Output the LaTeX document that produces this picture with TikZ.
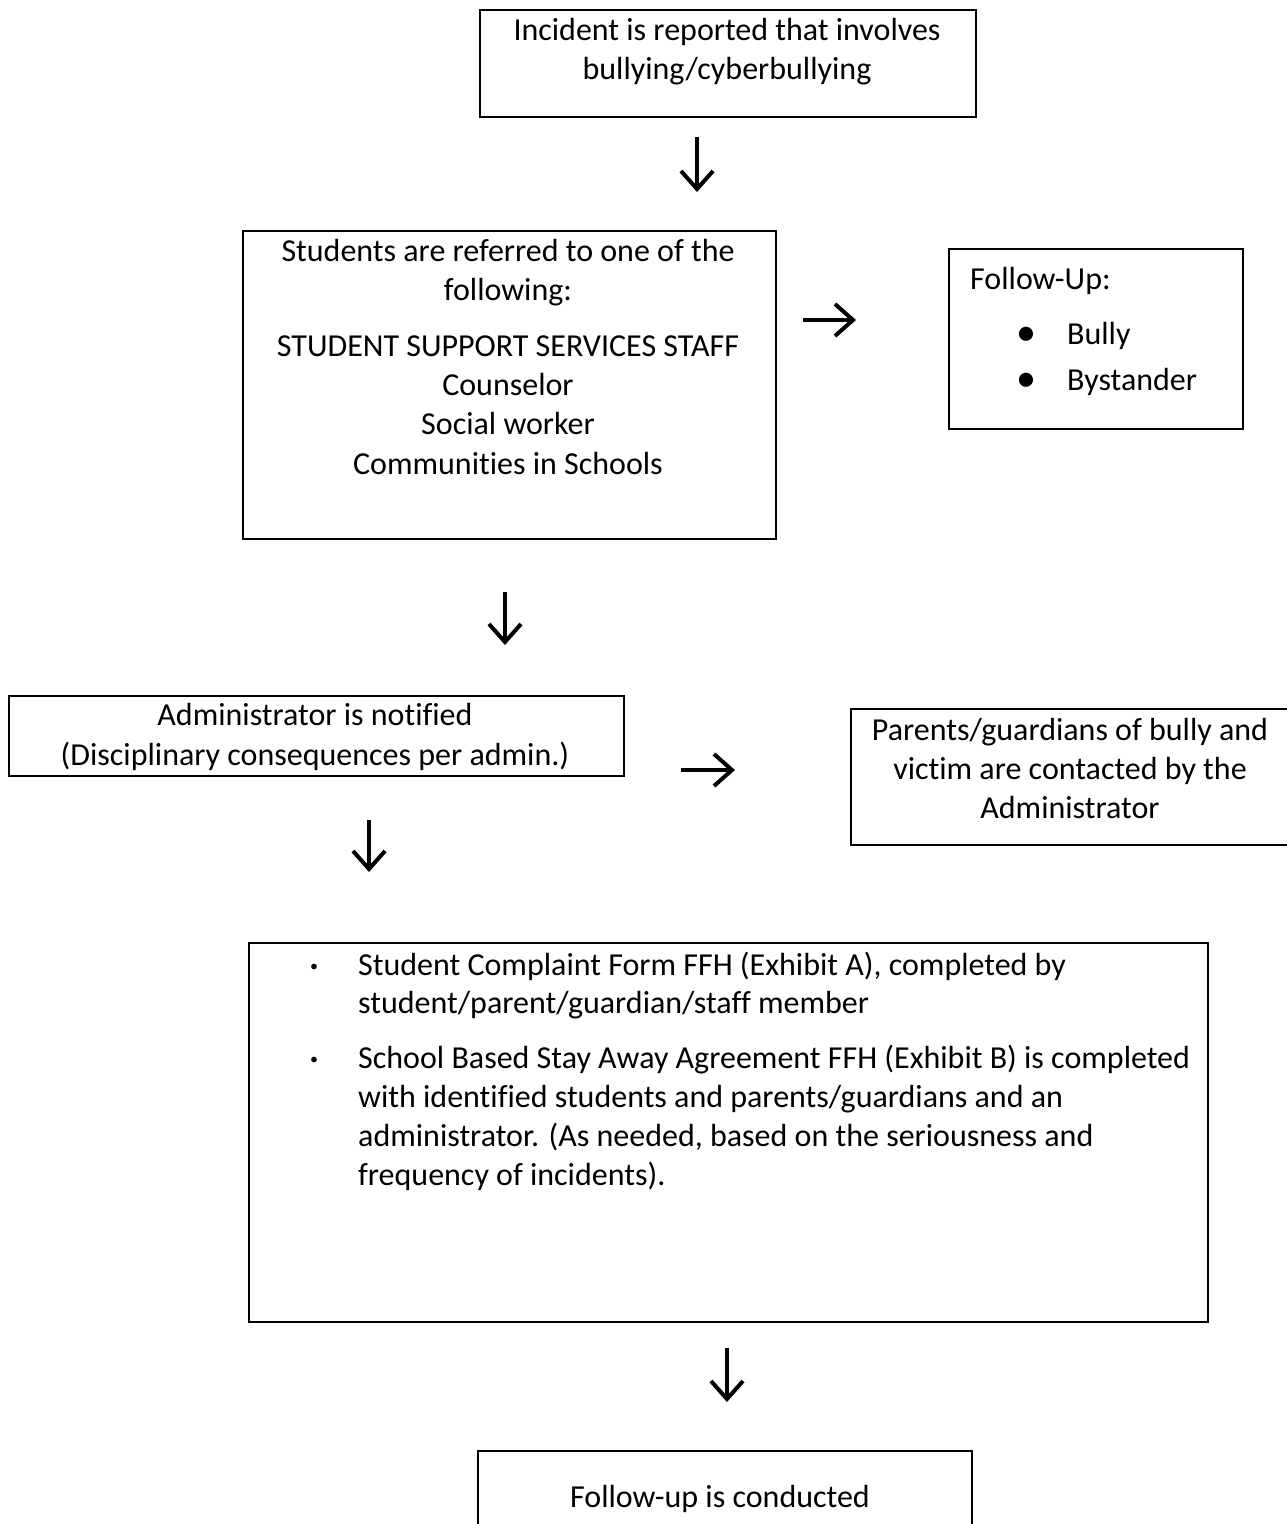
\documentclass[tikz,border=0pt]{standalone}
\usepackage{fontspec}
\setmainfont{Carlito}[Ligatures={NoCommon,NoRequired,NoContextual}]
\usetikzlibrary{arrows.meta}
\tikzset{
  box/.style={draw, line width=1.6pt, inner sep=0pt, anchor=north west},
  txt/.style={inner sep=0pt, anchor=base, font=\fontsize{32}{38}\selectfont},
  ltxt/.style={txt, anchor=base west},
  bigdot/.style={inner sep=0pt, anchor=center, font=\fontsize{40}{40}\selectfont},
  smalldot/.style={inner sep=0pt, anchor=center, font=\fontsize{16}{16}\selectfont},
  darrow/.style={line width=3.2pt, -{Straight Barb[length=18pt,width=32pt,line width=4pt]}},
}
\begin{document}
\begin{tikzpicture}[x=1pt,y=-1pt]
\clip (0,0) rectangle (1287,1524);
\fill[white] (0,0) rectangle (1287,1524);

% Box 1
\node[box, minimum width=496pt, minimum height=107pt] (b1) at (479,9) {};
\node[txt] (b1l1) at (727,40) {Incident is reported that involves};
\node[txt] (b1l2) at (727,79) {bullying/cyberbullying};

% Box 2
\node[box, minimum width=533pt, minimum height=308pt] (b2) at (242,230) {};
\node[txt] (b2l1) at (508,261.5) {Students are referred to one of the};
\node[txt] (b2l2) at (508,300.5) {following:};
\node[txt] (b2l3) at (508,356) {STUDENT SUPPORT SERVICES STAFF};
\node[txt] (b2l4) at (508,395) {Counselor};
\node[txt] (b2l5) at (508,434.5) {Social worker};
\node[txt] (b2l6) at (508,474) {Communities in Schools};

% Box 3
\node[box, minimum width=294pt, minimum height=180pt] (b3) at (948,248) {};
\node[ltxt] (b3l1) at (970,289.5) {Follow-Up:};
\node[bigdot] (b3d1) at (1026,336) {•};
\node[ltxt] (b3l2) at (1067,344.5) {Bully};
\node[bigdot] (b3d2) at (1026,382) {•};
\node[ltxt] (b3l3) at (1067,390.5) {Bystander};

% Box 4
\node[box, minimum width=615pt, minimum height=80pt] (b4) at (8,695) {};
\node[txt] (b4l1) at (315,725.5) {Administrator is notified};
\node[txt] (b4l2) at (315,765.5) {(Disciplinary consequences per admin.)};

% Box 5
\node[box, minimum width=460pt, minimum height=136pt] (b5) at (850,708) {};
\node[txt] (b5l1) at (1070,740.5) {Parents/guardians of bully and};
\node[txt] (b5l2) at (1070,779.5) {victim are contacted by the};
\node[txt] (b5l3) at (1070,818.5) {Administrator};

% Box 6
\node[box, minimum width=959pt, minimum height=379pt] (b6) at (248,942) {};
\node[smalldot] (b6d1) at (314,968) {•};
\node[ltxt] (b6l1) at (358,975.5) {Student Complaint Form FFH (Exhibit A), completed by};
\node[ltxt] (b6l2) at (358,1013.5) {student/parent/guardian/staff member};
\node[smalldot] (b6d2) at (314,1061) {•};
\node[ltxt] (b6l3) at (358,1068.5) {School Based Stay Away Agreement FFH (Exhibit B) is completed};
\node[ltxt] (b6l4) at (358,1107.5) {with identified students and parents/guardians and an};
\node[ltxt] (b6l5) at (358,1146.5) {administrator. (As needed, based on the seriousness and};
\node[ltxt] (b6l6) at (358,1185.5) {frequency of incidents).};

% Box 7
\node[box, minimum width=494pt, minimum height=120pt] (b7) at (477,1450) {};
\node[txt] (b7l1) at (720,1507.5) {Follow-up is conducted};

% Arrows
\coordinate (a1s) at (697,137); \coordinate (a1e) at (697,192);
\coordinate (a2s) at (803,320); \coordinate (a2e) at (856,320);
\coordinate (a3s) at (505,592); \coordinate (a3e) at (505,645);
\coordinate (a4s) at (681,770); \coordinate (a4e) at (735,770);
\coordinate (a5s) at (369,820); \coordinate (a5e) at (369,872);
\coordinate (a6s) at (727,1348); \coordinate (a6e) at (727,1402);
\draw[darrow] (a1s) -- (a1e);
\draw[darrow] (a2s) -- (a2e);
\draw[darrow] (a3s) -- (a3e);
\draw[darrow] (a4s) -- (a4e);
\draw[darrow] (a5s) -- (a5e);
\draw[darrow] (a6s) -- (a6e);
\end{tikzpicture}
\end{document}
